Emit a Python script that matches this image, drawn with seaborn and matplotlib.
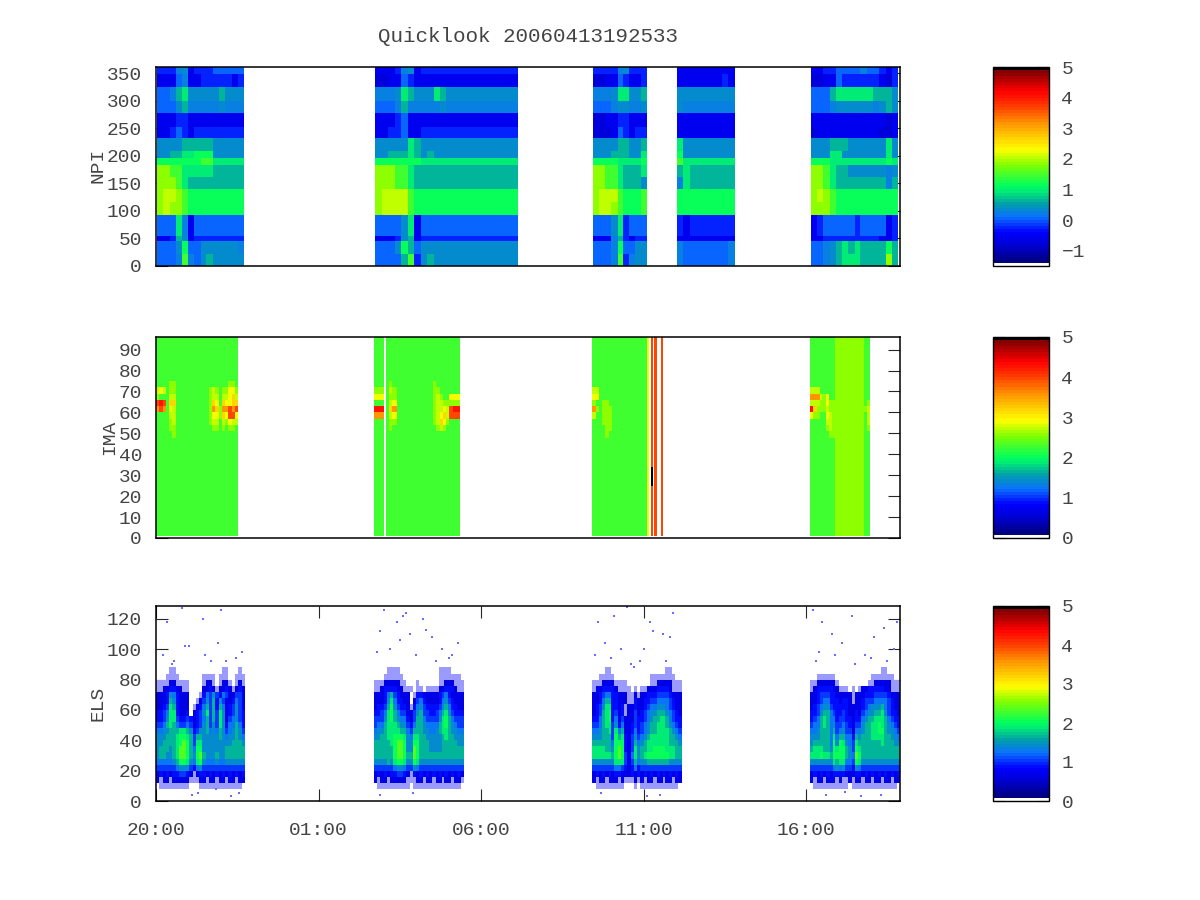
"""Quicklook panels: NPI, IMA and ELS spectrograms over 23 hours."""
import numpy as np
import matplotlib
matplotlib.use("Agg")
import matplotlib.pyplot as plt
from matplotlib.colors import LinearSegmentedColormap
import seaborn as sns

TITLE = "Quicklook 20060413192533"
TIME_TICKS = [0, 5, 10, 15, 20]
TIME_LABELS = ["20:00", "01:00", "06:00", "11:00", "16:00"]
TOTAL_HOURS = 22.892
STEP = 0.025

# every table below is read off the picture, one character per cell
# NPI: bands top to bottom, one table for each stretch of data
NPI_BANDS = [361, 348, 325, 300, 278, 252, 232, 208, 196, 184, 162, 140, 116, 92, 55, 45, 22, 0]
NPI_LEVELS = {"0": -0.75, "1": -0.5, "2": -0.2, "3": 0.05, "4": 0.22, "5": 0.4, "6": 0.7,
              "7": 0.95, "8": 1.15, "9": 1.45, "a": 1.8, "b": 2.0}
NPI_TIMES = [(0.03, 2.71), (6.75, 11.12), (13.45, 15.11), (16.03, 17.80), (20.15, 22.83)]
NPI_1 = ["22245122233333", "11134112222212", "33467555556555", "33356444445444",
         "11122111111111", "11232122222222", "55556666655555", "55667788855555",
         "88888889977777", "aa997777766666", "aaa97666666666", "abba9888888888",
         "abaa9888888888", "33374133333333", "11265122222222", "33358335555554",
         "33349435655555"]
NPI_2 = ["1112451222222222222222", "0011321111111111111111", "4445765557655555555555",
         "3334644444544444444444", "1112311111111111111111", "1122311222222222222222",
         "5555576555555555555555", "5566676565555555555555", "8888888777777777777777",
         "aaa9976666666666666666", "aaa9976666666666666666", "abbbb98888888888888888",
         "abbbb98888888888888888", "3333571333333333333333", "1112561222222222222222",
         "3335863555555555555555", "3333692565555555555555"]
NPI_3 = ["222245222", "001132112", "444577556", "333455445", "001122111", "000132122",
         "555566556", "555666557", "888877778", "aa9976667", "aa9976665", "abbb98889",
         "abba98889", "333572333", "111462122", "333483355", "333492455"]
NPI_4 = ["111111111", "111111121", "555555555", "544444444", "111111111", "111111111",
         "755555555", "855555555", "977777777", "676666666", "476666666", "888888888",
         "888888888", "212222222", "111111111", "433333334", "433333334"]
NPI_5 = ["11223333433212", "00113222222102", "33367777776665", "33345555554565",
         "11111111111101", "01111111111001", "55566655555575", "55577555555575",
         "88877777777787", "aa976655555545", "aa976666666646", "aba98888888888",
         "aaa98888888888", "12333332333312", "11222222222112", "33456767666686",
         "334567776666a6"]

# IMA
IMA_BANDS = [96, 78, 75, 72, 69, 66, 63, 60, 57, 54, 51, 48, 1]
IMA_LEVELS = {"0": 2.3, "1": 2.55, "2": 2.75, "3": 2.9, "4": 3.2, "5": 3.6, "6": 3.95, "7": 4.3}
IMA_TIMES = [(0.0, 2.52), (6.71, 7.03), (7.08, 9.34), (13.43, 15.11), (15.11, 15.17),
             (15.22, 15.30), (15.33, 15.40), (15.53, 15.61), (20.12, 21.98)]
IMA_1 = ["0000000000000000000000000", "0000000000000000000000000",
         "0000110000000000000000110", "2320110000000000121011331",
         "1000220000000000122022342", "6760440000000000143043344",
         "5650320000000000154155656", "0000220000000000133143663",
         "0000120000000000122021322", "0000110000000000011010110",
         "0000010000000000000000000", "0000000000000000000000000"]
IMA_2 = ["000", "000", "000", "111", "333", "000", "777", "555", "000", "000", "000", "000"]
IMA_3 = ["0000000000000000000000", "0000000000000000000000", "0100000000000010000000",
         "0210000000000011000000", "0110000000000012100333", "0230000000000012211111",
         "0450000000000012232677", "0230000000000012342666", "0110000000000012431000",
         "0100000000000001210000", "0000000000000000000000", "0000000000000000000000"]
IMA_4 = ["00000000000000000", "00000000000000000", "00000000000000000",
         "22000000000000000", "33000000000000000", "10011000000000000",
         "51011100000000000", "20011100000000000", "00011100000000000",
         "00001100000000000", "00001000000000000", "00000000000000000"]
IMA_SLIVER = ["3"] * 12
IMA_LINE = ["6"] * 12
IMA_5 = ["0000000011111111100", "0000000011111111100", "0000000011111111100",
         "2220000011111111100", "5552130011111111100", "2221131111111111101",
         "7411121111111111112", "3110032111111111102", "0000022111111111102",
         "0000012111111111101", "0000001111111111100", "0000000011111111100"]
# black piece inside the first orange line: hour start/end, channel low/high, value
IMA_SPIKE = (15.22, 15.30, 25, 34, 5.0)

# ELS: '.' is empty, '0' is the thin speckled fringe
ELS_BANDS = [92, 88, 84, 80, 76, 72, 68, 64, 60, 56, 52, 48, 44, 40, 36, 32, 28, 24, 20, 16, 12, 8]
ELS_LEVELS = {".": np.nan, "0": -1.0, "1": 0.62, "2": 0.85, "3": 1.05, "4": 1.25, "5": 1.45,
              "6": 1.65, "7": 1.85, "8": 2.05, "9": 2.35}
ELS_TIMES = [(0.0, 2.74), (6.71, 9.48), (13.42, 16.18), (20.12, 22.892)]
ELS_1 = ["...........................", "....00..............00...0.",
         "...0000.......0000.000..000", "0000110000....0110.0110.010",
         "0011221100....1121011210121", "1112542111...02435324311331",
         "1112652111..013536253112431", "1123762111.0124636264123531",
         "2234772112.1235736375123532", "223577322321234636375134532",
         "334676433431235635375244642", "445566677652355645465345653",
         "555666788763665555565455654", "556666789863775555555556665",
         "566656799864885555555666666", "566556799865896555655666666",
         "444445688754785444544555555", "333333455532453333333333333",
         "121212233210122121212121212", "101101111100011011011011011",
         ".000000000...0000000000000."]
ELS_2 = ["............................", "....0000............0000....",
         "...000000...........0000000.", "0001111100...0......00111000",
         "001222211000.00.000011222100", "11124632111.0221111123421111",
         "11125742211.1342111124532111", "1223685322102453222235642211",
         "2234786433113563322346753222", "3335786544213664333357864333",
         "3446777655324665444467865433", "4556777766436665544567765544",
         "5566778887547766555556766555", "6666678998558866655556666655",
         "6666668998559866655556666666", "6666668998669866666666666666",
         "5555657887558755555555555555", "3333334554335433333333333333",
         "1212122332102121212121212121", "1011011111000110110110110110",
         ".0000000000.000000000000000."]
ELS_3 = ["............................", "....00.................00...",
         "..00000...........00000000..", "00011110000.......0011111000",
         "011222210000.0.0011122221000", "1123442211100101122233332111",
         "1124662211100211223344443211", "1235772212011211234455543211",
         "1236782312011312345566654321", "2246782413111322345667764322",
         "3346773524112323456677765432", "4456673746112423456677776543",
         "5556663867213534567777776654", "6666664888213645677777776665",
         "7777665898213756677888877766", "7777776898314756788888887766",
         "5555555777313645566666665555", "3333333443212423333333333333",
         "1212121221112121212121212121", "1011011101000101011011011011",
         ".000000000...0.000000000000."]
ELS_4 = ["............................", "......................00....",
         "..000000...........0000000..", "001111110.........0011111000",
         "012222211000.0.0112222211000", "1123332211111011122233332111",
         "1123442221221011233344443211", "1234553222221111234555643211",
         "2235664322321121345566753221", "2346764423322122456677764322",
         "3446764533432133566778765432", "4456664634533144566778865543",
         "5556664746644265666777766554", "5666664858754376666666766655",
         "6777665878865387666666666666", "7778776888865498666666666666",
         "5555555767744387555555555555", "3333333454533254333333333333",
         "1212121222211122121212121212", "1011011101001011011011011011",
         ".00000000000.00000000000000."]
# lone points above and below the belts
ELS_DOT_T = [.35, .55, .9, 1.0, 1.5, 1.9, .8, 1.45, 2.0, 2.65, 2.45, 2.15, 1.7, .5, .2, 1.1, 1.3, 2.3, 1.85, 2.55,
             6.9, 7.2, 7.4, 7.6, 7.8, 8.0, 8.2, 8.5, 8.8, 9.0, 9.3, 6.8, 7.0, 7.5, 7.7, 8.3, 8.6, 9.1, 6.9, 7.9,
             13.6, 13.8, 14.1, 14.3, 14.7, 15.0, 15.3, 15.6, 15.8, 14.5, 14.9, 15.2, 13.5, 15.9, 14.0, 15.7, 14.6,
             13.7, 15.1, 15.5,
             20.2, 20.5, 20.8, 21.1, 21.4, 21.8, 22.1, 22.4, 22.7, 20.3, 20.9, 21.5, 22.0, 22.5, 20.6, 21.2, 22.8,
             21.7, 22.3, 20.4]
ELS_DOT_CH = [118, 92, 102, 102, 96, 104, 127, 120, 126, 98, 94, 92, 92, 90, 96, 4, 5, 3, 8, 5,
              112, 100, 118, 122, 110, 96, 120, 108, 100, 94, 104, 98, 126, 106, 124, 113, 92, 96, 4, 5,
              118, 104, 122, 100, 88, 100, 112, 110, 108, 128, 92, 118, 96, 124, 94, 92, 90, 5, 3, 4,
              126, 118, 110, 104, 122, 96, 108, 114, 100, 92, 96, 90, 94, 92, 4, 6, 118, 3, 4, 98]

TEXT = "#444444"
FONT = "Liberation Mono"
PALETTE = [(0.0, "#000080"), (0.10, "#0000e0"), (0.15, "#0000ff"), (0.23, "#0a70ff"), (0.30, "#00a0a8"),
           (0.36, "#00e878"), (0.39, "#00ff60"), (0.50, "#80ff00"), (0.58, "#ffff00"), (0.66, "#ffc000"),
           (0.72, "#ff9000"), (0.80, "#ff4000"), (0.88, "#ff0000"), (0.97, "#900000"), (0.99, "#800000"),
           (0.995, "#000000"), (1.0, "#000000")]


def paint(grid, times, edges, rows, levels):
    t0, t1 = times
    ncols = max(len(r) for r in rows)
    cols = np.round(np.linspace(t0, t1, ncols + 1) / STEP).astype(int)
    for r, row in enumerate(rows):
        row = row.ljust(ncols, ".")
        for c, code in enumerate(row):
            grid[edges[r + 1]:edges[r], cols[c]:cols[c + 1]] = levels.get(code, np.nan)


def panel(fig, grid, box, cbox, vmin, cbar_floor, yticks, ylim):
    ax = fig.add_axes(box)
    cax = fig.add_axes(cbox)
    sns.heatmap(grid, ax=ax, cbar_ax=cax, cmap=CMAP, vmin=vmin, vmax=5,
                xticklabels=False, yticklabels=False,
                cbar_kws={"ticks": list(range(int(np.ceil(cbar_floor)), 6))})
    ax.invert_yaxis()
    ax.set_ylim(0, ylim)
    ax.set_xlim(0, TOTAL_HOURS / STEP)
    ax.set_yticks(yticks, labels=[str(v) for v in yticks], rotation=0)
    ax.set_xticks([])
    ax.tick_params(axis="y", direction="in", left=True, right=True, length=8.6, width=0.8,
                   pad=10, labelsize=14, labelcolor=TEXT)
    for s in ax.spines.values():
        s.set_visible(True)
        s.set_linewidth(1.1)
        s.set_color("black")

    cax.set_ylim(cbar_floor, 5)
    cax.tick_params(axis="y", direction="in", left=True, right=True, labelleft=False, labelright=True,
                    length=8.6, width=0.8, pad=9, labelsize=14, labelcolor=TEXT)
    cbar = ax.collections[0].colorbar
    cbar.outline.set_visible(True)
    cbar.outline.set_linewidth(1.0)
    cbar.outline.set_edgecolor("black")
    return ax


def pixel_box(x0, x1, y0, y1):
    return [x0 / 1200, 1 - y1 / 900, (x1 - x0) / 1200, (y1 - y0) / 900]


sns.set_style("white")
plt.rcParams["font.family"] = [FONT, "DejaVu Sans"]
CMAP = LinearSegmentedColormap.from_list("quicklook", PALETTE, N=64)
CMAP.set_under("#9a9aff")

ncols = int(round(TOTAL_HOURS / STEP))

npi = np.full((361, ncols), np.nan)
for times, rows in zip(NPI_TIMES, [NPI_1, NPI_2, NPI_3, NPI_4, NPI_5]):
    paint(npi, times, NPI_BANDS, rows, NPI_LEVELS)

ima = np.full((96, ncols), np.nan)
ima_tables = [IMA_1, IMA_2, IMA_3, IMA_4, IMA_SLIVER, IMA_LINE, IMA_LINE, IMA_LINE, IMA_5]
for times, rows in zip(IMA_TIMES, ima_tables):
    paint(ima, times, IMA_BANDS, rows, IMA_LEVELS)
t0, t1, lo, hi, val = IMA_SPIKE
ima[lo:hi, int(round(t0 / STEP)):int(round(t1 / STEP))] = val

els = np.full((128, ncols), np.nan)
for times, rows in zip(ELS_TIMES, [ELS_1, ELS_2, ELS_3, ELS_4]):
    paint(els, times, ELS_BANDS, rows, ELS_LEVELS)

fig = plt.figure(figsize=(12, 9), dpi=100)

panel(fig, npi, pixel_box(156, 900, 67, 266), pixel_box(993, 1049, 67, 266), -1.4, -1.5,
      list(range(0, 351, 50)), 361)
panel(fig, ima, pixel_box(156, 900, 337, 538), pixel_box(993, 1049, 337, 538), 0.07, 0,
      list(range(0, 91, 10)), 96)
ax3 = panel(fig, els, pixel_box(156, 900, 606, 801), pixel_box(993, 1049, 606, 801), 0.07, 0,
            list(range(0, 121, 20)), 128.5)

sns.scatterplot(x=np.array(ELS_DOT_T) / STEP, y=ELS_DOT_CH, ax=ax3, s=2.5, color="#6a6aff",
                linewidth=0, marker="s", legend=False)
ax3.set_xticks([t / STEP for t in TIME_TICKS], labels=TIME_LABELS, rotation=0)
ax3.tick_params(axis="x", direction="in", bottom=True, top=True, length=8.6, width=0.8,
                pad=15, labelsize=14, labelcolor=TEXT)

fig.text(528 / 1200, 1 - 37 / 900, TITLE, ha="center", va="center", fontsize=15, color=TEXT)
fig.text(98 / 1200, 1 - 165 / 900, "NPI", rotation=90, ha="center", va="center", fontsize=14, color=TEXT)
fig.text(110 / 1200, 1 - 437 / 900, "IMA", rotation=90, ha="center", va="center", fontsize=14, color=TEXT)
fig.text(98 / 1200, 1 - 703 / 900, "ELS", rotation=90, ha="center", va="center", fontsize=14, color=TEXT)

fig.savefig("out.png", dpi=100)
plt.close(fig)
